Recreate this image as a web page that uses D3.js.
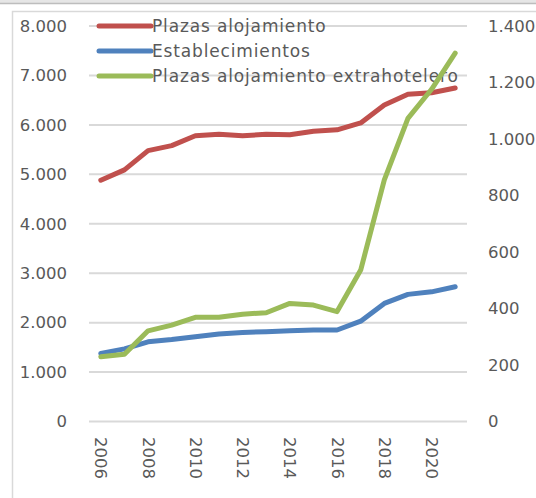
<!DOCTYPE html>
<html>
<head>
<meta charset="utf-8">
<script src="https://cdn.jsdelivr.net/npm/d3@7"></script>
<style>
  html, body { margin: 0; padding: 0; background: #fff; }
  svg { display: block; }
  text { font-family: "DejaVu Sans", sans-serif; fill: #595959; }
</style>
</head>
<body>
<script>
// Years on the category axis
const years = [2006, 2007, 2008, 2009, 2010, 2011, 2012, 2013, 2014, 2015, 2016, 2017, 2018, 2019, 2020, 2021];

// Plazas alojamiento (left axis)
const plazas = [4880, 5090, 5480, 5580, 5780, 5810, 5780, 5810, 5800, 5870, 5900, 6040, 6400, 6620, 6650, 6745];

// Establecimientos (right axis)
const establecimientos = [241, 257, 282, 290, 300, 310, 315, 318, 321, 324, 324, 355, 418, 450, 459, 477];

// Plazas alojamiento extrahotelero (right axis)
const extrahotelero = [229, 238, 321, 341, 369, 369, 380, 385, 418, 412, 389, 536, 855, 1073, 1176, 1304];

const leftTicks = [0, 1000, 2000, 3000, 4000, 5000, 6000, 7000, 8000];
const rightTicks = [0, 200, 400, 600, 800, 1000, 1200, 1400];
const xTickYears = [2006, 2008, 2010, 2012, 2014, 2016, 2018, 2020];

const seriesNames = ["Plazas alojamiento", "Establecimientos", "Plazas alojamiento extrahotelero"];
const seriesColors = ["#c0504d", "#4f81bd", "#9bbb59"];

const W = 536, H = 498;
const fmt = d3.formatLocale({ decimal: ",", thousands: ".", grouping: [3] }).format(",");

const svg = d3.select("body").append("svg").attr("width", W).attr("height", H);

// window chrome strip and chart frame
svg.append("rect").attr("x", 0).attr("y", 0).attr("width", W).attr("height", 3).attr("fill", "#e6e6e6");
svg.append("line").attr("x1", 0).attr("x2", W).attr("y1", 3.5).attr("y2", 3.5).attr("stroke", "#bdbdbd").attr("stroke-width", 1.5);
svg.append("rect").attr("x", 12.5).attr("y", 11.5).attr("width", W).attr("height", H)
  .attr("fill", "none").attr("stroke", "#d9d9d9").attr("stroke-width", 1.5);

const x = d3.scaleBand().domain(years).range([89, 467]);
const yL = d3.scaleLinear().domain([0, 8000]).range([421.5, 26]);
const yR = d3.scaleLinear().domain([0, 1400]).range([421.5, 26]);

// horizontal gridlines
svg.append("g").selectAll("line").data(leftTicks).join("line")
  .attr("x1", 89).attr("x2", 467)
  .attr("y1", d => yL(d)).attr("y2", d => yL(d))
  .attr("stroke", "#d9d9d9").attr("stroke-width", 2);

// left axis labels
const leftAxis = d3.axisLeft(yL).tickValues(leftTicks).tickFormat(fmt).tickSize(0).tickPadding(0);
const gL = svg.append("g").attr("transform", "translate(67,0)").call(leftAxis);
gL.select(".domain").remove();
gL.selectAll("text").attr("font-size", 16.5).attr("fill", "#595959").attr("font-family", "DejaVu Sans");

// right axis labels
const rightAxis = d3.axisRight(yR).tickValues(rightTicks).tickFormat(fmt).tickSize(0).tickPadding(0);
const gR = svg.append("g").attr("transform", "translate(488,0)").call(rightAxis);
gR.select(".domain").remove();
gR.selectAll("text").attr("font-size", 16.5).attr("fill", "#595959").attr("font-family", "DejaVu Sans");

// year labels, rotated
const xAxis = d3.axisBottom(x).tickValues(xTickYears).tickSize(0).tickPadding(0);
const gX = svg.append("g").attr("transform", "translate(0,437)").call(xAxis);
gX.select(".domain").remove();
gX.selectAll("text")
  .attr("font-size", 16.5).attr("fill", "#595959").attr("font-family", "DejaVu Sans")
  .attr("text-anchor", "start").attr("dy", null).attr("y", 0)
  .attr("dominant-baseline", "central")
  .attr("transform", "rotate(90)");

// legend
const legendRows = [26, 51, 76];
const lg = svg.append("g");
seriesNames.forEach((name, i) => {
  lg.append("line").attr("x1", 99).attr("x2", 151)
    .attr("y1", legendRows[i]).attr("y2", legendRows[i])
    .attr("stroke", seriesColors[i]).attr("stroke-width", 5).attr("stroke-linecap", "round");
  lg.append("text").attr("x", 152).attr("y", legendRows[i]).attr("dominant-baseline", "central")
    .attr("font-size", 17).attr("letter-spacing", 0.85).text(name);
});

// series lines
const cx = d => x(d) + x.bandwidth() / 2;
const lineL = d3.line().x((d, i) => cx(years[i])).y(d => yL(d));
const lineR = d3.line().x((d, i) => cx(years[i])).y(d => yR(d));

const series = [
  { values: plazas, gen: lineL, color: seriesColors[0] },
  { values: establecimientos, gen: lineR, color: seriesColors[1] },
  { values: extrahotelero, gen: lineR, color: seriesColors[2] }
];
series.forEach(s => {
  svg.append("path").attr("d", s.gen(s.values))
    .attr("fill", "none").attr("stroke", s.color).attr("stroke-width", 5)
    .attr("stroke-linejoin", "round").attr("stroke-linecap", "round");
});
</script>
</body>
</html>
